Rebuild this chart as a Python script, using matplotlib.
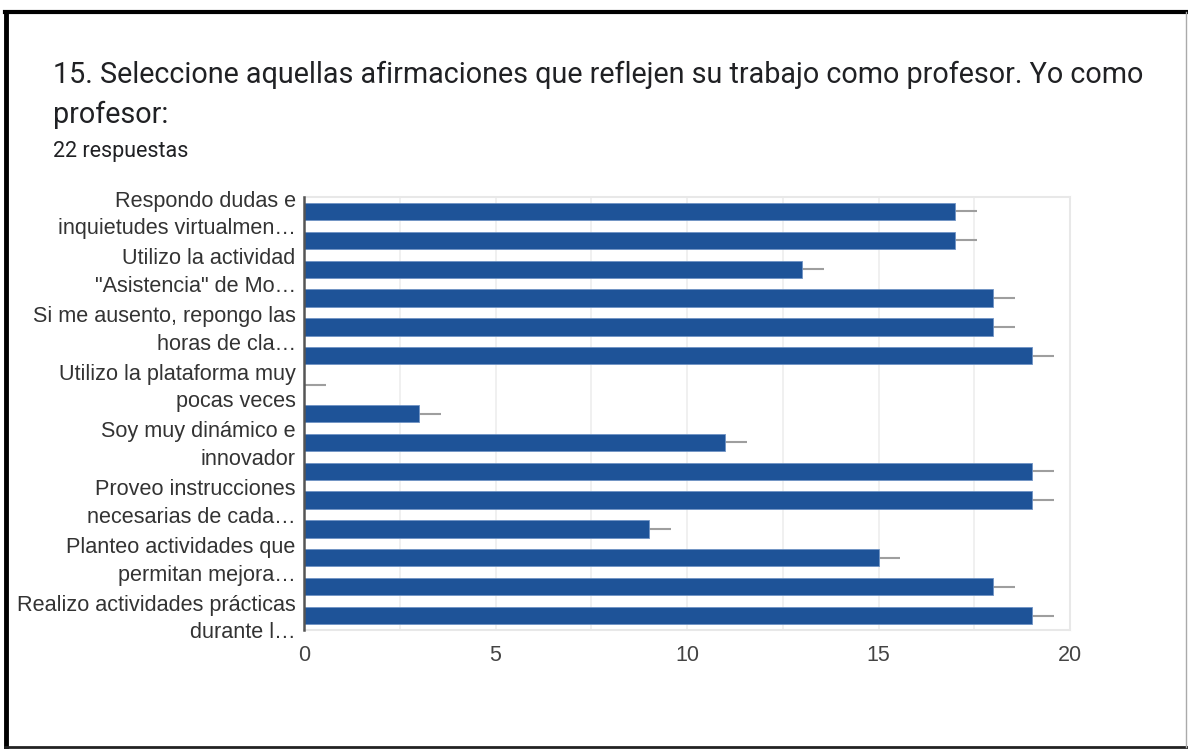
"""Google Forms style horizontal bar chart (question 15)."""

import matplotlib

matplotlib.use("Agg")
import matplotlib.pyplot as plt
from matplotlib.lines import Line2D
import numpy as np

# ---- data -------------------------------------------------------------
title_lines = [
    "15. Seleccione aquellas afirmaciones que reflejen su trabajo como profesor. Yo como",
    "profesor:",
]
subtitle = "22 respuestas"

counts = [17, 17, 13, 18, 18, 19, 0, 3, 11, 19, 19, 9, 15, 18, 19]

# only every other category gets a (truncated) label in the original chart
shown_labels = [
    "Respondo dudas e\ninquietudes virtualmen…",
    "Utilizo la actividad\n\"Asistencia\" de Mo…",
    "Si me ausento, repongo las\nhoras de cla…",
    "Utilizo la plataforma muy\npocas veces",
    "Soy muy dinámico e\ninnovador",
    "Proveo instrucciones\nnecesarias de cada…",
    "Planteo actividades que\npermitan mejora…",
    "Realizo actividades prácticas\ndurante l…",
]
x_ticks = [0, 5, 10, 15, 20]

BAR_COLOR = "#1E5398"
WHISKER = 0.57  # grey stub Google draws past each bar end

fig = plt.figure(figsize=(11.88, 7.49), dpi=100)
ax = fig.add_axes([0.2559, 0.1589, 0.6448, 0.578])

y = np.arange(len(counts))
ax.barh(y, counts, height=0.6, color=BAR_COLOR, edgecolor="#6f93c4",
        linewidth=0.6, zorder=3)
ax.errorbar(counts, y, xerr=[np.zeros(len(counts)), np.full(len(counts), WHISKER)],
            fmt="none", ecolor="#9e9e9e", elinewidth=1.5, capsize=0, zorder=2)

ax.set_xlim(0, 20)
ax.set_ylim(len(counts) - 0.5, -0.5)
ax.set_xticks(x_ticks)
ax.set_xticks(np.arange(2.5, 20, 5), minor=True)
ax.set_yticks(y[::2] + 0.12)
ax.set_yticklabels(shown_labels, fontfamily="Liberation Sans", fontsize=15.6,
                   color="#333333", linespacing=1.42, va="center")
ax.tick_params(axis="y", length=0, pad=6)
ax.tick_params(axis="x", which="both", length=0, pad=11, labelsize=15.5,
               labelcolor="#444444")
for lab in ax.get_xticklabels():
    lab.set_fontfamily("Liberation Sans")

ax.grid(True, axis="x", which="both", color="#eeeeee", linewidth=1.2, zorder=0)
for side in ("top", "right", "bottom"):
    ax.spines[side].set_color("#e8e8e8")
    ax.spines[side].set_linewidth(1.5)
ax.spines["left"].set_color("#555555")
ax.spines["left"].set_linewidth(1.8)
ax.spines["left"].set_zorder(4)

# ---- header text --------------------------------------------------------
fig.text(53 / 1188, 1 - 83 / 749, title_lines[0], fontfamily="Roboto",
         fontsize=20.7, color="#202124", va="baseline")
fig.text(53 / 1188, 1 - 123 / 749, title_lines[1], fontfamily="Roboto",
         fontsize=20.7, color="#202124", va="baseline")
fig.text(53 / 1188, 1 - 157 / 749, subtitle, fontfamily="Roboto",
         fontsize=15.5, color="#202124", va="baseline")

# ---- screenshot frame ---------------------------------------------------
W, H = 1188, 749
fig.add_artist(Line2D([5 / W, 1187 / W], [1 - 12 / H] * 2, color="black", lw=3))
fig.add_artist(Line2D([6 / W] * 2, [1 - 12 / H, 1 - 747 / H], color="black", lw=3.5))
fig.add_artist(Line2D([5 / W, 1187 / W], [1 - 747 / H] * 2, color="#222222", lw=2))
fig.add_artist(Line2D([1186 / W] * 2, [1 - 12 / H, 1 - 747 / H], color="#aaaaaa", lw=1))

fig.savefig("out.png", dpi=100)
